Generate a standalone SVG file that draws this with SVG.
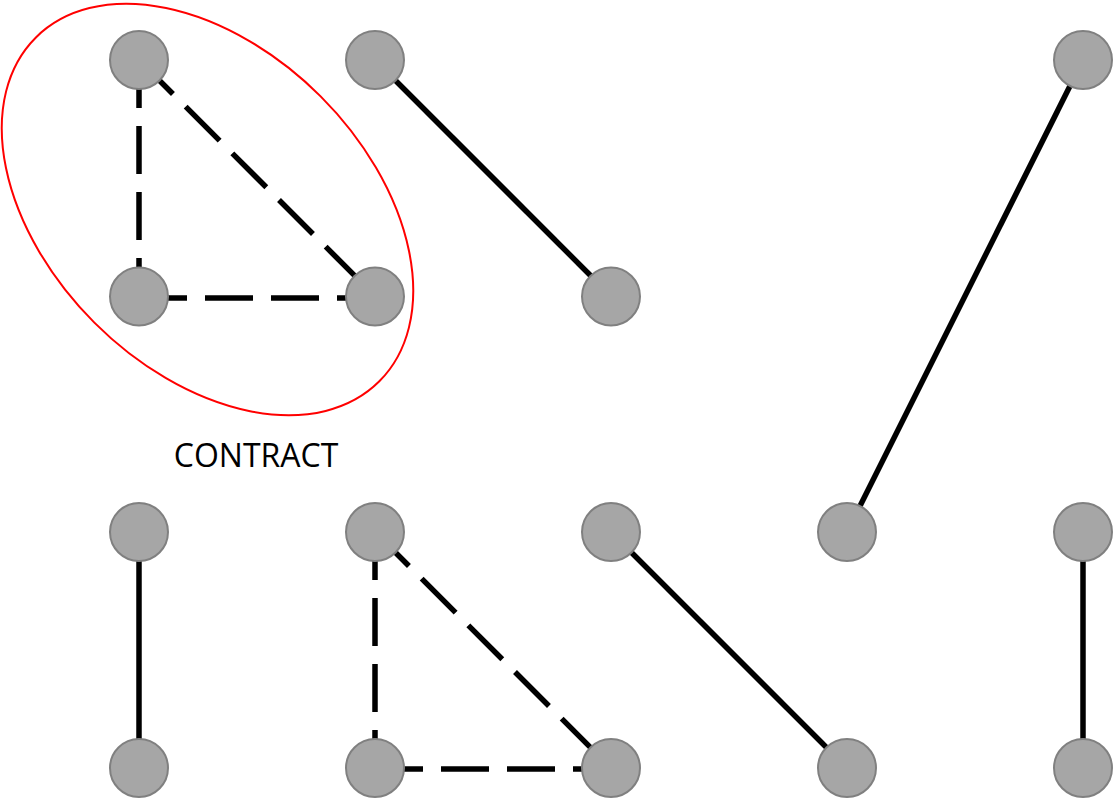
<svg xmlns="http://www.w3.org/2000/svg" width="1114" height="799" viewBox="0 0 1114 799">
<style>
.n{fill:#a6a6a6;stroke:#808080;stroke-width:2}
.e{stroke:#000;stroke-width:5.5;fill:none}
.d{stroke-dasharray:48 18}
.lbl{font-family:"Open Sans","Liberation Sans",sans-serif;font-size:32px;fill:#000}
</style>
<rect width="1114" height="799" fill="#fff"/>
<g id="contract-region">
<ellipse cx="207.5" cy="209.5" rx="243" ry="160" transform="rotate(45 207.5 209.5)" fill="none" stroke="#ff0000" stroke-width="2"/>
</g>
<g id="connectors">
<line class="e d" x1="139" y1="60" x2="139" y2="296"/>
<line class="e d" x1="139" y1="60" x2="375" y2="296"/>
<line class="e d" x1="139" y1="298" x2="375" y2="298"/>
<line class="e" x1="375" y1="60" x2="611" y2="296"/>
<line class="e" x1="1083" y1="60" x2="847" y2="532"/>
<line class="e" x1="139" y1="532" x2="139" y2="768"/>
<line class="e d" x1="375" y1="532" x2="375" y2="768"/>
<line class="e d" x1="375" y1="532" x2="611" y2="768"/>
<line class="e d" x1="375" y1="769" x2="611" y2="769"/>
<line class="e" x1="611" y1="532" x2="847" y2="768"/>
<line class="e" x1="1083" y1="532" x2="1083" y2="768"/>
</g>
<g id="n1"><circle class="n" cx="139" cy="60" r="29"/></g>
<g id="n2"><circle class="n" cx="375" cy="60" r="29"/></g>
<g id="n3"><circle class="n" cx="1083" cy="60" r="29"/></g>
<g id="n4"><circle class="n" cx="139" cy="296.5" r="29"/></g>
<g id="n5"><circle class="n" cx="375" cy="296.5" r="29"/></g>
<g id="n6"><circle class="n" cx="611" cy="296.5" r="29"/></g>
<g id="n7"><circle class="n" cx="139" cy="532" r="29"/></g>
<g id="n8"><circle class="n" cx="375" cy="532" r="29"/></g>
<g id="n9"><circle class="n" cx="611" cy="532" r="29"/></g>
<g id="n10"><circle class="n" cx="847" cy="532" r="29"/></g>
<g id="n11"><circle class="n" cx="1083" cy="532" r="29"/></g>
<g id="n12"><circle class="n" cx="139" cy="768" r="29"/></g>
<g id="n13"><circle class="n" cx="375" cy="768" r="29"/></g>
<g id="n14"><circle class="n" cx="611" cy="768" r="29"/></g>
<g id="n15"><circle class="n" cx="847" cy="768" r="29"/></g>
<g id="n16"><circle class="n" cx="1083" cy="768" r="29"/></g>
<g id="label"><text class="lbl" x="256" y="467" text-anchor="middle">CONTRACT</text></g>
</svg>
